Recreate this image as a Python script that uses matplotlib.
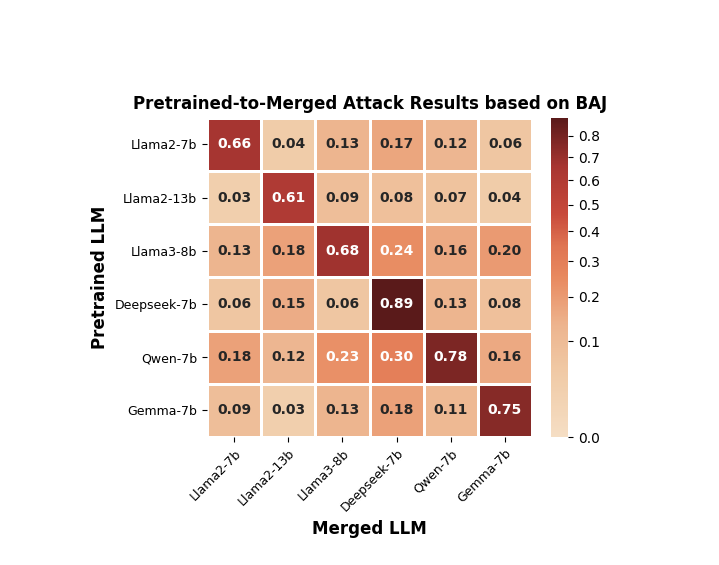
import numpy as np
import matplotlib
matplotlib.use("Agg")
import matplotlib.pyplot as plt
from matplotlib.colors import LinearSegmentedColormap, PowerNorm

models = ["Llama2-7b", "Llama2-13b", "Llama3-8b", "Deepseek-7b", "Qwen-7b", "Gemma-7b"]
values = np.array([
    [0.66, 0.04, 0.13, 0.17, 0.12, 0.06],
    [0.03, 0.61, 0.09, 0.08, 0.07, 0.04],
    [0.13, 0.18, 0.68, 0.24, 0.16, 0.20],
    [0.06, 0.15, 0.06, 0.89, 0.13, 0.08],
    [0.18, 0.12, 0.23, 0.30, 0.78, 0.16],
    [0.09, 0.03, 0.13, 0.18, 0.11, 0.75],
])
cbar_ticks = [0.0, 0.1, 0.2, 0.3, 0.4, 0.5, 0.6, 0.7, 0.8]

cmap = LinearSegmentedColormap.from_list("peach", [
    (0.0, "#f5dec4"), (0.2, "#f0caa6"), (0.35, "#edb48e"), (0.5, "#e8895f"),
    (0.6, "#df7452"), (0.7, "#c84a3b"), (0.85, "#a73531"), (1.0, "#5a1a1a")])
norm = PowerNorm(gamma=0.55, vmin=0, vmax=0.89)

fig = plt.figure(figsize=(7.19, 5.65), dpi=100)
ax = fig.add_axes([0.288, 0.2265, 0.452, 0.565])
cax = fig.add_axes([0.766, 0.2265, 0.024, 0.565])

im = ax.pcolormesh(values, cmap=cmap, norm=norm, edgecolors="white", linewidth=0.8)
ax.set_xlim(0, 6)
ax.set_ylim(6, 0)
for i in range(6):
    for j in range(6):
        v = values[i, j]
        ax.text(j + 0.5, i + 0.5, f"{v:.2f}", ha="center", va="center",
                fontsize=10, fontweight="bold", color="white" if v > 0.22 else "#262626")

ax.set_xticks(np.arange(6) + 0.5)
ax.set_xticklabels(models, rotation=45, ha="right", rotation_mode="anchor", fontsize=9)
ax.set_yticks(np.arange(6) + 0.5)
ax.set_yticklabels(models, fontsize=9)
for s in ax.spines.values():
    s.set_visible(False)
ax.set_xlabel("Merged LLM", fontsize=12, fontweight="bold")
ax.set_ylabel("Pretrained LLM", fontsize=12, fontweight="bold")
ax.set_title("Pretrained-to-Merged Attack Results based on BAJ", fontsize=12, fontweight="bold")

cb = fig.colorbar(im, cax=cax)
cb.set_ticks(cbar_ticks)
cb.ax.tick_params(labelsize=10)
cb.outline.set_visible(False)

fig.savefig("out.png", dpi=100)
